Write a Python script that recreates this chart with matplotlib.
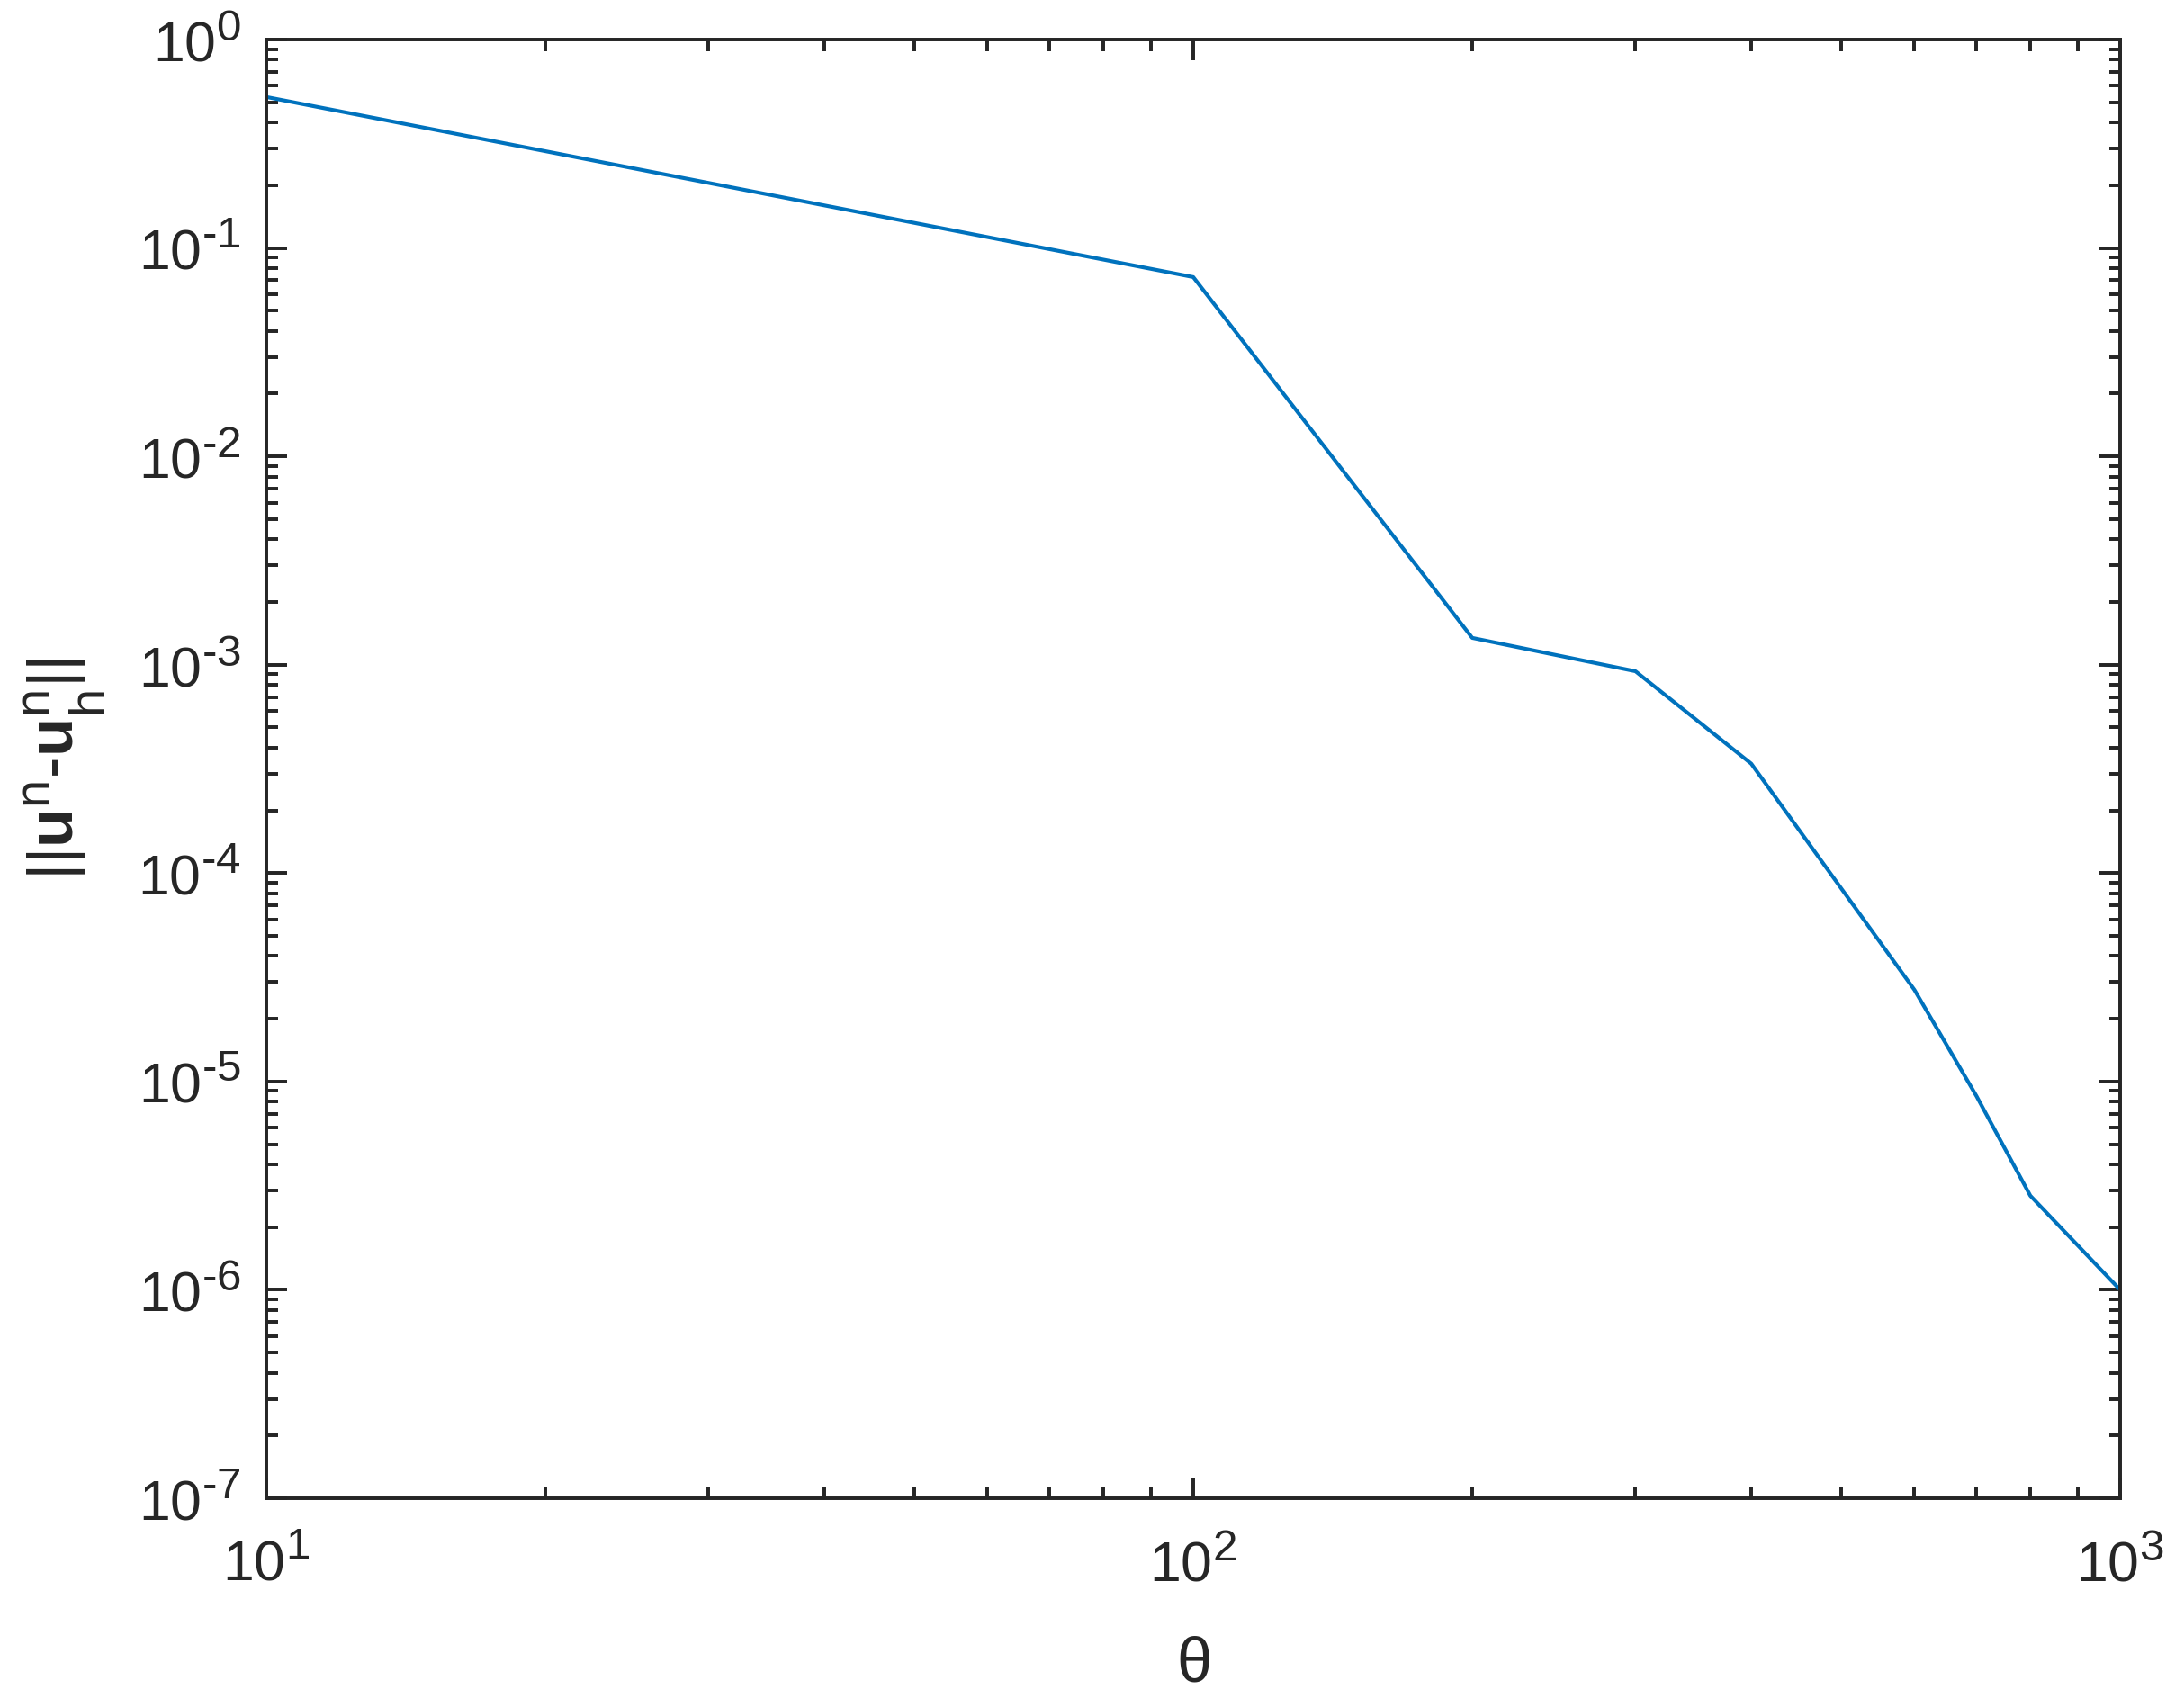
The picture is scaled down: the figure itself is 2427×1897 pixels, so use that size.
import math
import matplotlib
matplotlib.use("Agg")
import matplotlib.pyplot as plt
from matplotlib.ticker import LogLocator, FixedLocator, FuncFormatter, NullFormatter
try:
    import matplotlib._mathtext as _mt
    _mt.SHRINK_FACTOR = 0.79
    _mt.FontConstantsBase.sub2 = 0.95
except Exception:
    pass

theta = [10, 100, 200, 300, 400, 600, 700, 800, 1000]
err = [0.53, 0.0725, 1.345e-3, 9.3e-4, 3.35e-4, 2.75e-5, 8.5e-6, 2.83e-6, 1.0e-6]
x_decades = [1, 2, 3]
y_decades = [-7, -6, -5, -4, -3, -2, -1, 0]

plt.rcParams['font.family'] = ['Liberation Sans', 'DejaVu Sans']
plt.rcParams['mathtext.fontset'] = 'custom'
plt.rcParams['mathtext.rm'] = 'Liberation Sans'
plt.rcParams['mathtext.it'] = 'Liberation Sans'
plt.rcParams['mathtext.bf'] = 'Liberation Sans:bold'

dark = '#262626'
fig = plt.figure(figsize=(2427/300, 1897/300), dpi=300)
ax = fig.add_axes([296/2427, 1-1665/1897, (2356-296)/2427, (1665-44)/1897])
ax.plot(theta, err, color='#0072BD', linewidth=1.0)
ax.set_xscale('log')
ax.set_yscale('log')
ax.set_xlim(10**x_decades[0], 10**x_decades[-1])
ax.set_ylim(10.0**y_decades[0], 10.0**y_decades[-1])

def fmt(v, pos):
    e = int(round(math.log10(v)))
    if e < 0:
        return r'$\mathregular{10^{\text{-}%d}}$' % (-e)
    return r'$\mathregular{10^{%d}}$' % e

ax.xaxis.set_major_locator(FixedLocator([10.0**k for k in x_decades]))
ax.yaxis.set_major_locator(FixedLocator([10.0**k for k in y_decades]))
ax.xaxis.set_minor_locator(LogLocator(base=10, subs=range(2, 10), numticks=20))
ax.yaxis.set_minor_locator(LogLocator(base=10, subs=range(2, 10), numticks=20))
ax.xaxis.set_major_formatter(FuncFormatter(fmt))
ax.yaxis.set_major_formatter(FuncFormatter(fmt))
ax.xaxis.set_minor_formatter(NullFormatter())
ax.yaxis.set_minor_formatter(NullFormatter())

ax.tick_params(which='both', direction='in', top=True, right=True, colors=dark,
               labelsize=15, width=0.95)
ax.tick_params(which='major', length=5.5)
ax.tick_params(which='minor', length=3.0)
ax.tick_params(axis='x', which='major', pad=10.5)
ax.tick_params(axis='y', which='major', pad=6.8)
for s in ax.spines.values():
    s.set_color(dark)
    s.set_linewidth(0.95)

ax.set_xlabel(r'$\mathregular{\theta}$', fontsize=17, color=dark, labelpad=11.3)
ax.set_ylabel(r'$\mathregular{||\mathbf{u}^n\text{-}\mathbf{u}_h^n||}$', fontsize=17, color=dark, labelpad=8)

fig.savefig('out.png', dpi=300, facecolor='white')
